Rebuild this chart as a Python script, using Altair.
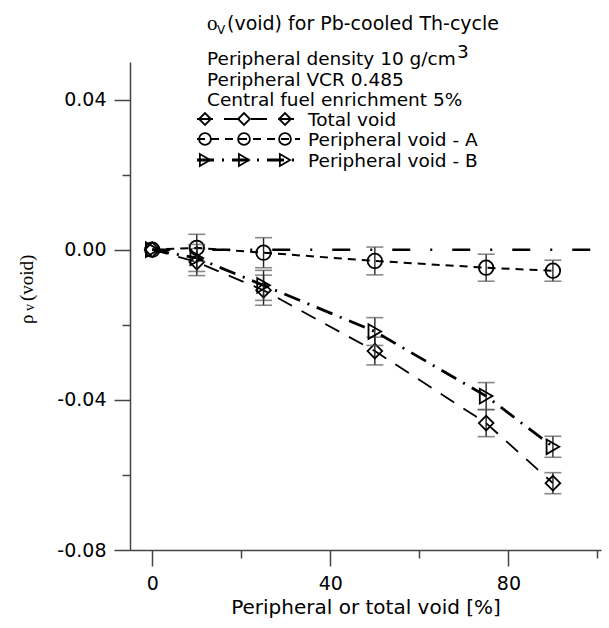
import altair as alt
import pandas as pd

# ---------------- data ----------------
void_pct = [0, 10, 25, 50, 75, 90]
total_void = [0.0, -0.0033, -0.0108, -0.0270, -0.0462, -0.0622]
periph_a = [0.0, 0.0005, -0.0008, -0.0030, -0.0048, -0.0056]
periph_b = [0.0, -0.0022, -0.0095, -0.0218, -0.0390, -0.0525]
errors = [0.0, 0.0036, 0.0040, 0.0037, 0.0036, 0.0028]
series_names = ["Total void", "Peripheral void - A", "Peripheral void - B"]
zero_line_x = [0, 100]
zero_line_y = [0.0, 0.0]
x_ticks = [0, 20, 40, 60, 80, 100]
y_ticks = [-0.08, -0.06, -0.04, -0.02, 0.0, 0.02, 0.04]
info_lines = ["Peripheral density 10 g/cm", "Peripheral VCR 0.485", "Central fuel enrichment 5%"]
title_rest = "(void) for Pb-cooled Th-cycle"
x_title = "Peripheral or total void [%]"

# ---------------- tables ----------------
rows = []
for name, vals in zip(series_names, [total_void, periph_a, periph_b]):
    for x, v, e in zip(void_pct, vals, errors):
        rows.append({"series": name, "x": x, "y": v, "lo": v - e, "hi": v + e, "e": e})
df = pd.DataFrame(rows)
zero_df = pd.DataFrame({"x": zero_line_x, "y": zero_line_y})
one = pd.DataFrame({"a": [0]})

styles = {
    "Total void": dict(shape="diamond", size=215, dash=[16, 11], width=1.8),
    "Peripheral void - A": dict(shape="circle", size=210, dash=[8, 6], width=2.0),
    "Peripheral void - B": dict(shape="triangle-right", size=215, dash=[17, 8, 2, 8], width=2.8),
}

OX, OY = 130, 62  # plot-area origin in the page
FONT = "DejaVu Sans"
TXT = 18.5

xs = alt.Scale(domain=[-5, 100.8], nice=False, zero=False)
ys = alt.Scale(domain=[-0.08, 0.05], nice=False, zero=False)

xaxis = alt.Axis(
    values=x_ticks,
    labelExpr="datum.value % 40 == 0 ? datum.label : ''",
    tickSize={"condition": {"test": "datum.value % 40 == 0", "value": 16}, "value": 8},
    grid=False,
    title=x_title,
    labelPadding=8,
    titlePadding=4,
)
yaxis = alt.Axis(
    values=y_ticks,
    labelExpr="round(datum.value*100) % 4 == 0 ? (datum.value < 0 ? '-' + format(-datum.value, '.2f') : format(datum.value, '.2f')) : ''",
    tickSize={"condition": {"test": "round(datum.value*100) % 4 == 0", "value": 16}, "value": 8},
    grid=False,
    title="",
    labelPadding=8,
)

X = alt.X("x:Q", scale=xs, axis=xaxis)
Y = alt.Y("y:Q", scale=ys, axis=yaxis)

layers = []

# zero reference line
layers.append(
    alt.Chart(zero_df).mark_line(color="black", strokeWidth=2.4, strokeDash=[18, 20, 2, 20])
    .encode(x=X, y=Y)
)

err_df = df[df["e"] > 0]
for name in series_names:
    st = styles[name]
    d = df[df["series"] == name]
    de = err_df[err_df["series"] == name]
    layers.append(
        alt.Chart(d).mark_line(color="black", strokeWidth=st["width"], strokeDash=st["dash"])
        .encode(x=X, y=Y)
    )
    layers.append(
        alt.Chart(de).mark_rule(color="#222", strokeWidth=1.4)
        .encode(x=X, y=alt.Y("lo:Q", scale=ys, axis=yaxis), y2="hi:Q")
    )
    for end in ["lo", "hi"]:
        layers.append(
            alt.Chart(de).mark_tick(orient="horizontal", color="#555", size=17, thickness=1.6)
            .encode(x=X, y=alt.Y(f"{end}:Q", scale=ys, axis=yaxis))
        )
    layers.append(
        alt.Chart(d).mark_point(shape=st["shape"], size=st["size"], filled=False,
                                color="black", strokeWidth=1.8, opacity=1)
        .encode(x=X, y=Y)
    )


def txt(s, x, y, size=TXT, font=FONT, angle=0, align="left", baseline="alphabetic"):
    return alt.Chart(one).mark_text(text=s, fontSize=size, font=font, angle=angle,
                                    align=align, baseline=baseline, color="black").encode(
        x=alt.value(x - OX), y=alt.value(y - OY))


# title block
layers.append(txt("ο", 207, 30, size=21, font="Liberation Serif"))
layers.append(txt("V", 217, 34, size=12))
layers.append(txt(title_rest, 227, 30, size=19))
for line, yb in zip(info_lines, [65, 86, 106]):
    layers.append(txt(line, 207, yb))
layers.append(txt("3", 457, 58))

# custom legend
for name, yb in zip(series_names, [126, 146, 167]):
    st = styles[name]
    yc = yb - 7
    layers.append(
        alt.Chart(one).mark_rule(color="black", strokeWidth=st["width"], strokeDash=st["dash"])
        .encode(x=alt.value(197 - OX), x2=alt.value(300 - OX), y=alt.value(yc - OY))
    )
    for mx in [205, 244, 285]:
        layers.append(
            alt.Chart(one).mark_point(shape=st["shape"], size=140, filled=False,
                                      color="black", strokeWidth=1.8, opacity=1)
            .encode(x=alt.value(mx - OX), y=alt.value(yc - OY))
        )
    layers.append(txt(name, 308, yb))

# y-axis title (rotated)
layers.append(txt("ρ", 33, 324, size=19, font="Liberation Serif", angle=270))
layers.append(txt("v", 34, 311, size=14, font="Liberation Serif", angle=270))
layers.append(txt("(void)", 33, 301, size=19, font="Liberation Serif", angle=270))

chart = alt.layer(*layers).properties(
    width=471, height=488,
    autosize=alt.AutoSizeParams(type="none"),
    padding={"left": OX, "top": OY, "right": 8, "bottom": 78},
).configure_view(stroke=None).configure_axis(
    labelFont=FONT, labelFontSize=19, labelColor="black",
    titleFont=FONT, titleFontSize=20, titleFontWeight="normal", titleColor="black",
    domainColor="#444", domainWidth=1.5, tickColor="#444", tickWidth=1.5,
)

chart.save("out.html", embed_options={"renderer": "svg", "actions": False})
